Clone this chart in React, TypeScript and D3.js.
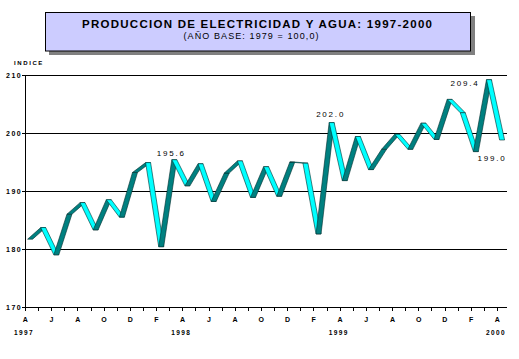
import React from "react";
import * as d3 from "d3";

const months: string[] = [
  "1997-04","1997-05","1997-06","1997-07","1997-08","1997-09","1997-10","1997-11","1997-12",
  "1998-01","1998-02","1998-03","1998-04","1998-05","1998-06","1998-07","1998-08","1998-09",
  "1998-10","1998-11","1998-12","1999-01","1999-02","1999-03","1999-04","1999-05","1999-06",
  "1999-07","1999-08","1999-09","1999-10","1999-11","1999-12","2000-01","2000-02","2000-03","2000-04"
];
const values: number[] = [
  181.9,183.9,179.2,186.2,188.2,183.5,188.7,185.7,193.4,
  195.1,180.6,195.6,191.1,194.9,188.4,193.3,195.4,189.1,
  194.4,189.3,195.2,195.0,182.8,202.0,192.0,199.6,193.9,
  197.4,200.0,197.4,201.9,199.1,206.0,203.7,197.0,209.4,199.0
];
const monthTickLabels: string[] = ["A","J","A","O","D","F","A","J","A","O","D","F","A","J","A","O","D","F","A"];
const yearLabels: string[] = ["1997","1998","1999","2000"];
const yearIndex: number[] = [0, 12, 24, 36];
const yTicks: number[] = [170, 180, 190, 200, 210];
const annotations: { index: number; label: string; dx: number; dy: number }[] = [
  { index: 11, label: "195.6", dx: -3, dy: -4 },
  { index: 23, label: "202.0", dx: -1, dy: -6 },
  { index: 35, label: "209.4", dx: -24, dy: 6 },
  { index: 36, label: "199.0", dx: -10, dy: 21 },
];

const W = 519, H = 359;
const font = "'Liberation Sans', Arial, sans-serif";

export default function App() {
  const x = d3.scaleLinear().domain([0, months.length - 1]).range([25, 497]);
  const y = d3.scaleLinear().domain([170, 210]).range([307, 75]);
  const depth = 5;
  const px = (i: number) => x(i) + 2.6;
  const py = (v: number) => y(v) + 1.2;

  const segs = values.slice(0, -1).map((v, i) => {
    const x1 = px(i), y1 = py(v), x2 = px(i + 1), y2 = py(values[i + 1]);
    const pts: [number, number][] = [[x1, y1], [x2, y2], [x2 + depth, y2], [x1 + depth, y1]];
    const desc = y2 >= y1;
    return { d: d3.line()(pts) + "Z", fill: desc ? "#00FFFF" : "#008080" };
  });

  return (
    <svg width={W} height={H} style={{ position: "absolute", left: 0, top: 0, background: "#fff" }}>
      {/* title box */}
      <rect x={49} y={16} width={426} height={39} fill="#808080" />
      <rect x={45.5} y={12.5} width={425} height={38.5} fill="#CCCCFF" stroke="#000" strokeWidth={1} />
      <text x={257} y={28} textAnchor="middle" fontFamily={font} fontWeight="bold" fontSize={11.5}
        textLength={350} lengthAdjust="spacing">PRODUCCION DE ELECTRICIDAD Y AGUA: 1997-2000</text>
      <text x={251} y={38.5} textAnchor="middle" fontFamily={font} fontSize={9}
        textLength={135} lengthAdjust="spacing">(AÑO BASE: 1979 = 100,0)</text>

      <text x={14} y={64.5} fontFamily={font} fontSize={6} fontWeight="bold" letterSpacing={1.6}>INDICE</text>

      {/* gridlines */}
      {yTicks.map((t) => (
        <g key={t}>
          <line x1={22} x2={507} y1={Math.round(y(t)) + 0.5} y2={Math.round(y(t)) + 0.5} stroke="#000" strokeWidth={1} />
          <text x={22} y={y(t) + 2.5} textAnchor="end" fontFamily={font} fontSize={7} fontWeight="bold" letterSpacing={1.4}>{t}</text>
        </g>
      ))}
      <line x1={25.5} x2={25.5} y1={75} y2={307.5} stroke="#000" strokeWidth={1} />

      {/* x ticks */}
      {months.map((m, i) => (
        <line key={m} x1={Math.round(x(i)) + 0.5} x2={Math.round(x(i)) + 0.5} y1={307} y2={311} stroke="#000" strokeWidth={1} />
      ))}
      {monthTickLabels.map((l, k) => (
        <text key={k} x={x(k * 2) + 0.3} y={322} textAnchor="middle" fontFamily={font} fontSize={7} fontWeight="bold">{l}</text>
      ))}
      {yearLabels.map((l, k) => (
        <text key={l} x={x(yearIndex[k]) - 1} y={334.5} textAnchor="middle" fontFamily={font} fontSize={6.5} fontWeight="bold" letterSpacing={1.4}>{l}</text>
      ))}

      {/* ribbon */}
      {segs.map((s, i) => (
        <path key={i} d={s.d} fill={s.fill} stroke="#002b2b" strokeWidth={0.6} strokeLinejoin="round" />
      ))}

      {annotations.map((a) => (
        <text key={a.label} x={px(a.index) + depth / 2 + a.dx} y={py(values[a.index]) + a.dy}
          textAnchor="middle" fontFamily={font} fontSize={8} letterSpacing={1.8}>{a.label}</text>
      ))}
    </svg>
  );
}
